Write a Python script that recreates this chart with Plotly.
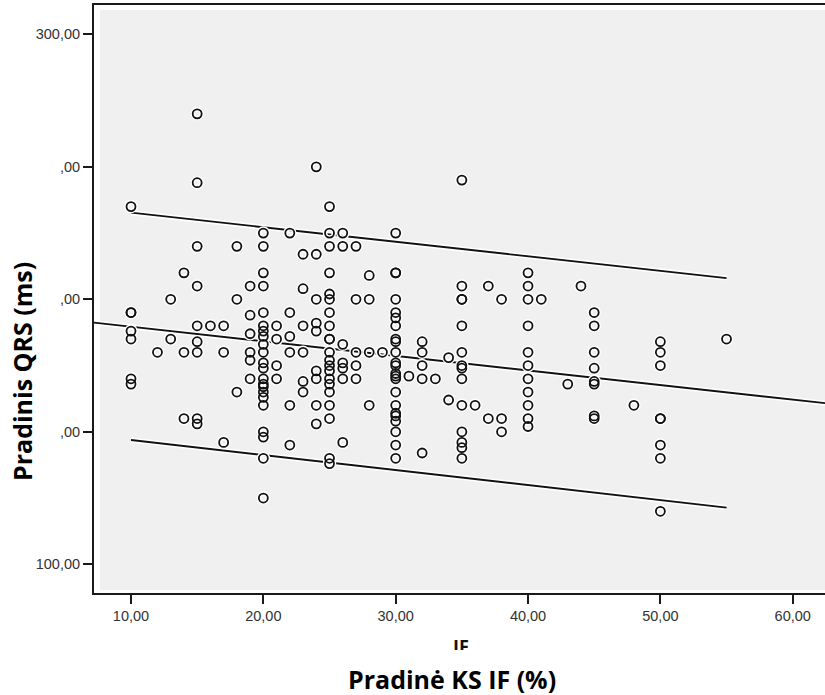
import plotly.graph_objects as go

# ---------------- data ----------------
if_pct = (
    [10] * 7 + [12] + [13] * 2 + [14] * 3 + [15] * 9 + [16] + [17] * 3 + [18] * 3 + [19] * 6
    + [20] * 22 + [21] * 4 + [22] * 6 + [23] * 6 + [24] * 9 + [25] * 21 + [26] * 7 + [27] * 5
    + [28] * 4 + [29] + [30] * 23 + [31] + [32] * 5 + [33] + [34] * 2 + [35] * 14 + [36]
    + [37] * 2 + [38] * 3 + [40] * 11 + [41] + [43] + [44] + [45] * 8 + [48] + [50] * 8 + [55]
)
qrs_ms = [
    235, 195, 195, 188, 185, 170, 168,                      # 10
    180,                                                    # 12
    200, 185,                                               # 13
    210, 180, 155,                                          # 14
    270, 244, 220, 205, 190, 184, 180, 155, 153,            # 15
    190,                                                    # 16
    190, 180, 146,                                          # 17
    220, 200, 165,                                          # 18
    205, 194, 187, 180, 177, 170,                           # 19
    225, 220, 210, 205, 195, 190, 188, 186, 183, 180, 176,
    174, 170, 168, 167, 165, 163, 160, 150, 148, 140, 125,  # 20
    190, 185, 175, 170,                                     # 21
    225, 195, 186, 180, 160, 145,                           # 22
    217, 204, 190, 180, 169, 165,                           # 23
    250, 217, 200, 191, 188, 173, 170, 160, 153,            # 24
    235, 225, 220, 210, 202, 200, 195, 190, 185, 185, 180,
    177, 175, 173, 170, 168, 165, 160, 155, 140, 138,       # 25
    225, 220, 183, 176, 174, 170, 146,                      # 26
    220, 200, 180, 175, 170,                                # 27
    209, 200, 180, 160,                                     # 28
    180,                                                    # 29
    225, 210, 210, 200, 195, 193, 190, 185, 184, 180, 176, 175,
    172, 171, 170, 165, 160, 157, 156, 154, 150, 145, 140,  # 30
    171,                                                    # 31
    184, 180, 175, 170, 142,                                # 32
    170,                                                    # 33
    178, 162,                                               # 34
    245, 205, 200, 200, 190, 180, 175, 174, 170, 160, 150,
    146, 144, 140,                                          # 35
    160,                                                    # 36
    205, 155,                                               # 37
    200, 155, 150,                                          # 38
    210, 205, 200, 190, 180, 175, 170, 165, 160, 155, 152,  # 40
    200,                                                    # 41
    168,                                                    # 43
    205,                                                    # 44
    195, 190, 180, 174, 169, 168, 156, 155,                 # 45
    160,                                                    # 48
    184, 180, 175, 155, 155, 145, 140, 120,                 # 50
    185,                                                    # 55
]

# regression line (whole axis) and prediction-interval lines
fit_x = [7.2, 62.44]
fit_y = [191.2, 160.8]
pi_x = [10, 55]
pi_upper = [232.7, 208.0]
pi_lower = [146.9, 121.4]

x_tick_vals = [10, 20, 30, 40, 50, 60]
x_tick_text = ["10,00", "20,00", "30,00", "40,00", "50,00", "60,00"]
y_tick_vals = [100, 150, 200, 250, 300]
y_tick_text = ["100,00", ",00", ",00", ",00", "300,00"]

x_range = [7.204, 62.44]
y_range = [89.17, 311.06]

# ---------------- figure ----------------
W, H = 825, 695
fig = go.Figure()

for xs, ys in [(fit_x, fit_y), (pi_x, pi_upper), (pi_x, pi_lower)]:
    fig.add_trace(go.Scatter(x=xs, y=ys, mode="lines",
                             line=dict(color="white", width=5),
                             hoverinfo="skip", showlegend=False))
    fig.add_trace(go.Scatter(x=xs, y=ys, mode="lines",
                             line=dict(color="#111111", width=1.9),
                             hoverinfo="skip", showlegend=False))

# white halo under circles
fig.add_trace(go.Scatter(x=if_pct, y=qrs_ms, mode="markers",
                         marker=dict(symbol="circle-open", size=9, color="white",
                                     line=dict(width=4.5)),
                         hoverinfo="skip", showlegend=False))
fig.add_trace(go.Scatter(x=if_pct, y=qrs_ms, mode="markers",
                         marker=dict(symbol="circle-open", size=9, color="#111111",
                                     line=dict(width=1.8)),
                         showlegend=False))

# partially hidden "IF" label (clipped inside a tiny subplot)
fig.add_trace(go.Scatter(x=[0.5], y=[0.136], mode="text", text=["IF"],
                         textposition="middle center",
                         textfont=dict(family="Open Sans", size=18, color="#111111",
                                       weight="bold"),
                         cliponaxis=True, xaxis="x2", yaxis="y2",
                         hoverinfo="skip", showlegend=False))

tickfont = dict(family="Liberation Sans", size=14.5, color="#333333")
axis_common = dict(showgrid=False, zeroline=False, showline=True, linewidth=2,
                   linecolor="#1a1a1a", ticks="outside", ticklen=9, tickwidth=2,
                   tickcolor="#1a1a1a", tickfont=tickfont, automargin=False,
                   tickmode="array")

fig.update_layout(
    width=W, height=H, autosize=False, template="none",
    margin=dict(l=0, r=0, t=0, b=0, pad=0),
    paper_bgcolor="white", plot_bgcolor="rgba(0,0,0,0)",
    showlegend=False,
    xaxis=dict(domain=[94 / W, 1], range=x_range, tickvals=x_tick_vals,
               ticktext=x_tick_text, mirror=True, anchor="y", **axis_common),
    yaxis=dict(domain=[(H - 593) / H, (H - 5) / H], range=y_range,
               tickvals=y_tick_vals, ticktext=y_tick_text, anchor="x",
               **axis_common),
    xaxis2=dict(domain=[440 / W, 482 / W], range=[0, 1], visible=False,
                anchor="y2", fixedrange=True),
    yaxis2=dict(domain=[(H - 650) / H, (H - 636) / H], range=[0, 1],
                visible=False, anchor="x2", fixedrange=True),
    shapes=[dict(type="rect", xref="paper", yref="paper",
                 x0=100 / W, x1=1, y0=(H - 590) / H, y1=(H - 10) / H,
                 fillcolor="#f0f0f0", line=dict(width=0), layer="below")],
    annotations=[
        dict(text="Pradinis QRS (ms)", textangle=-90, xref="paper", yref="paper",
             x=22 / W, y=(H - 372) / H, xanchor="center", yanchor="middle",
             showarrow=False,
             font=dict(family="Open Sans", size=25, color="#000000", weight="bold")),
        dict(text="Pradinė KS IF (%)", xref="paper", yref="paper",
             x=451.5 / W, y=(H - 679) / H, xanchor="center", yanchor="middle",
             showarrow=False,
             font=dict(family="Open Sans", size=25, color="#000000", weight="bold")),
    ],
)

fig.write_html("out.html")
